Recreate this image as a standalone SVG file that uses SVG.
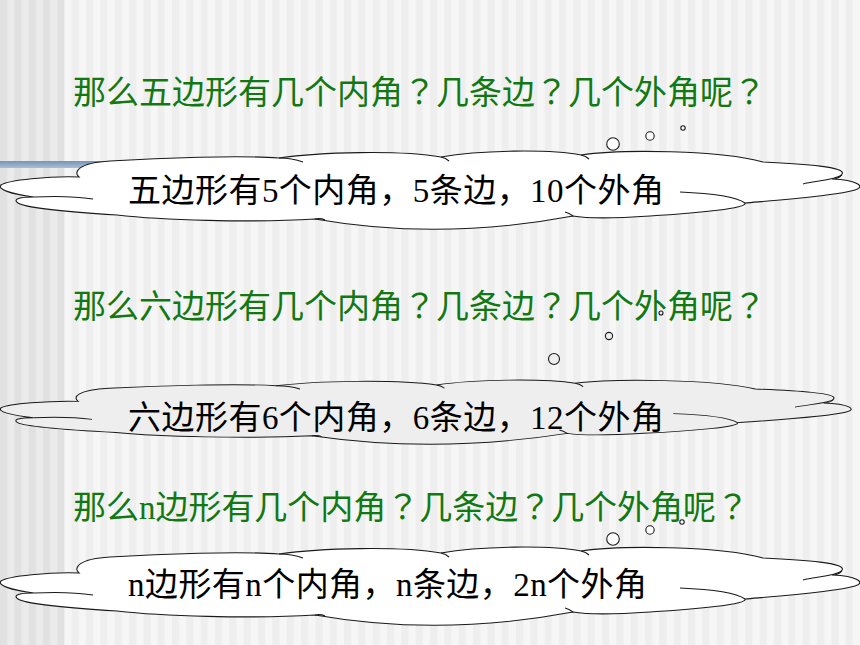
<svg xmlns="http://www.w3.org/2000/svg" xmlns:xlink="http://www.w3.org/1999/xlink" width="860" height="645" viewBox="0 0 860 645">
  <style>
    .q { font-family: "Liberation Serif", "Noto Sans CJK SC", serif; font-size: 33px; fill: #127812; }
    .a { font-family: "Liberation Serif", "Noto Sans CJK SC", serif; font-size: 33px; fill: #000000; }
    .fw { font-family: "Noto Sans CJK JP", "Noto Sans CJK SC", sans-serif; }
    .cl { stroke: #1a1a1a; stroke-width: 1.1; vector-effect: non-scaling-stroke; }
    .inner { fill: none; stroke: #1a1a1a; stroke-width: 1.1; vector-effect: non-scaling-stroke; }
    .white { fill: #ffffff; }
    .grey { fill: #eeeeee; }
    .bub { stroke: #1a1a1a; stroke-width: 1.1; }
  </style>
  <defs>
    <pattern id="stripesL" x="0" y="0" width="14.333" height="10" patternUnits="userSpaceOnUse">
      <rect x="0" y="0" width="14.333" height="10" fill="#ebebeb"/>
      <rect x="0" y="0" width="7.1" height="10" fill="#e1e1e1"/>
    </pattern>
    <pattern id="stripesR" x="0" y="0" width="14.333" height="10" patternUnits="userSpaceOnUse">
      <rect x="0" y="0" width="14.333" height="10" fill="#f6f6f6"/>
      <rect x="0" y="0" width="7.1" height="10" fill="#eeeeee"/>
    </pattern>
    <linearGradient id="barGrad" x1="0" y1="0" x2="0" y2="1">
      <stop offset="0" stop-color="#7693b6"/>
      <stop offset="1" stop-color="#aabed4"/>
    </linearGradient>
    <path id="cloudShape" d="M79,177 C73,172 78,163 110,161 C160,158 240,155 279,158 C320,152 400,150 441,157 C480,150 550,149 581,155 C620,149 720,150 763,162 C805,164 847,167 842,174 C840,178 836,179 832,179 C858,180 866,187 855,190 C835,196 780,200 745,203 C748,208 700,213 650,216 C620,218 590,219 573,216 Q440,241 315,219 C250,223 160,220 117,215 C70,212 25,208 18,203 C12,199 20,197 34,197 C10,194 -3,189 1,185 C8,180 50,176 79,177 Z"/>
    <path id="cloudInner" d="M34,197 C55,196 80,197 93,199 M279,158 Q292,158 303,162 M441,157 q5,1 8,4 M581,155 q5,1 8,4 M803,184 C815,181 835,180 842,175 M680,192 C705,193 735,196 745,203 M573,216 q-4,-3 -8,-4 M315,219 q6,-1 10,1"/>
  </defs>

  <g id="background">
    <rect x="0" y="0" width="860" height="645" fill="url(#stripesR)"/>
    <rect x="0" y="0" width="64.3" height="645" fill="url(#stripesL)"/>
    <rect x="0" y="161" width="112" height="7" fill="url(#barGrad)"/>
  </g>

  <g id="question1">
    <text class="q" x="73" y="104" textLength="693" lengthAdjust="spacing">那么五边形有几个内角<tspan class="fw">？</tspan>几条边<tspan class="fw">？</tspan>几个外角呢<tspan class="fw">？</tspan></text>
  </g>
  <g id="question2">
    <text class="q" x="73" y="318" textLength="693" lengthAdjust="spacing">那么六边形有几个内角<tspan class="fw">？</tspan>几条边<tspan class="fw">？</tspan>几个外角呢<tspan class="fw">？</tspan></text>
  </g>
  <g id="question3">
    <text class="q" x="73" y="519" textLength="676" lengthAdjust="spacing">那么n边形有几个内角<tspan class="fw">？</tspan>几条边<tspan class="fw">？</tspan>几个外角呢<tspan class="fw">？</tspan></text>
  </g>

  <g id="cloud1">
    <use xlink:href="#cloudShape" class="cl white"/>
    <use xlink:href="#cloudInner" class="inner"/>
    <circle class="bub white" cx="613" cy="144" r="6.3"/>
    <circle class="bub white" cx="650" cy="136" r="4.2"/>
    <circle class="bub white" cx="683" cy="128" r="2.2"/>
    <text class="a" x="128" y="202" textLength="536" lengthAdjust="spacing">五边形有5个内角，5条边，10个外角</text>
  </g>

  <g id="cloud2">
    <g transform="matrix(0.99 0 0 0.82 0 256.2)">
      <use xlink:href="#cloudShape" class="cl grey"/>
      <use xlink:href="#cloudInner" class="inner"/>
    </g>
    <circle class="bub grey" cx="554" cy="359" r="5.5"/>
    <circle class="bub grey" cx="609" cy="336" r="3.6"/>
    <circle class="bub grey" cx="661" cy="313" r="2"/>
    <text class="a" x="128" y="429" textLength="536" lengthAdjust="spacing">六边形有6个内角，6条边，12个外角</text>
  </g>

  <g id="cloud3">
    <g transform="translate(0 396)">
      <use xlink:href="#cloudShape" class="cl white"/>
      <use xlink:href="#cloudInner" class="inner"/>
    </g>
    <circle class="bub white" cx="613" cy="539" r="6.3"/>
    <circle class="bub white" cx="650" cy="530" r="4.2"/>
    <circle class="bub white" cx="682" cy="522" r="2.2"/>
    <text class="a" x="128" y="596" textLength="519" lengthAdjust="spacing">n边形有n个内角，n条边，2n个外角</text>
  </g>
</svg>
